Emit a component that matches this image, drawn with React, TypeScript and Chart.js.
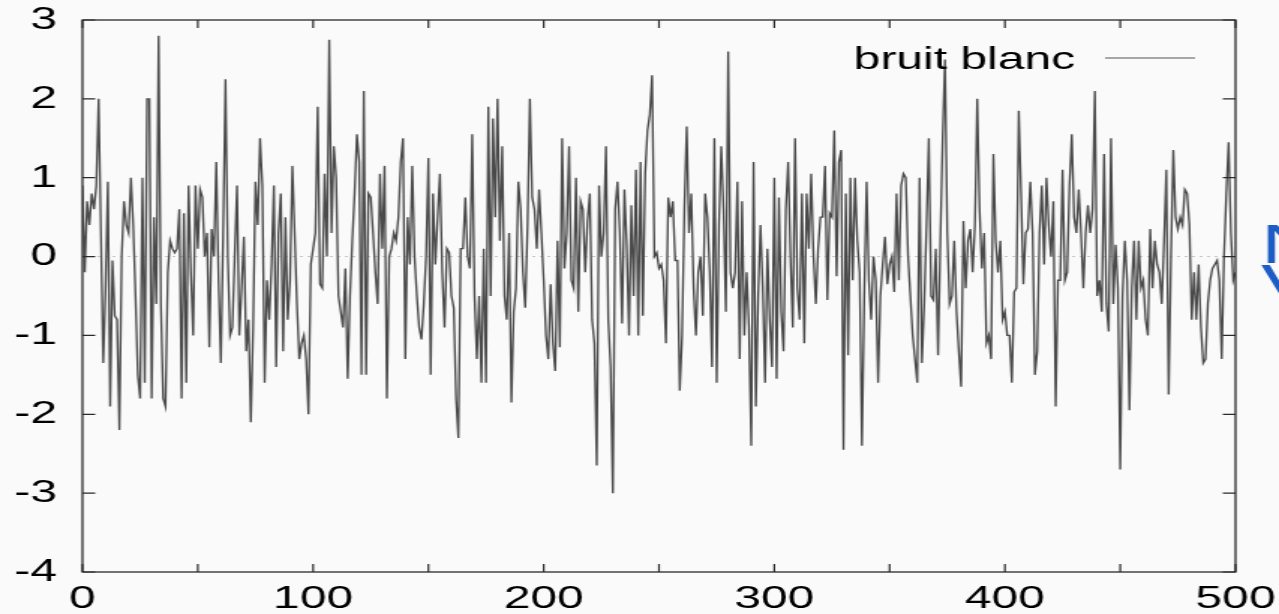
import { useEffect, useRef } from "react";
import { Chart, registerables } from "chart.js";

Chart.register(...registerables);

// ---- data ----
const seriesName = "bruit blanc";
const xTickLabels = ["0", "100", "200", "300", "400", "500"];
const yTickLabels = ["-4", "-3", "-2", "-1", "0", "1", "2", "3"];
const annotationGlyphs = ["N", "V"];

const noise0to99 = [
  0.9, -0.2, 0.7, 0.4, 0.8, 0.6, 0.9, 2.0, 0.3, -1.35,
  -0.4, 0.95, -1.9, -0.05, -0.75, -0.8, -2.2, 0.0, 0.7, 0.4,
  0.3, 1.0, 0.4, -0.5, -1.5, -1.8, 1.0, -1.6, 2.0, 2.0,
  -1.8, 0.5, -0.6, 2.8, -0.6, -1.8, -1.9, -0.2, 0.2, 0.1,
  0.05, 0.1, 0.6, -1.8, 0.55, -1.6, 0.9, -0.2, -1.0, 0.9,
  0.1, 0.85, 0.75, 0.0, 0.3, -1.15, 0.35, 0.0, 1.2, -0.3,
  -1.35, 0.3, 2.25, 0.0, -1.0, -0.9, 0.0, 0.9, -1.0, -0.4,
  0.25, -1.2, -0.8, -2.1, -0.9, 0.95, 0.4, 1.5, 0.9, -1.6,
  -0.3, -0.8, -0.1, 0.9, -1.4, 0.3, 0.8, -1.2, 0.5, -0.8,
  -0.3, 1.15, 0.3, -0.6, -1.3, -1.1, -1.0, -1.3, -2.0, -0.1,
];
const noise100to199 = [
  0.1, 0.3, 1.9, -0.35, -0.4, 1.05, 0.0, 2.75, 0.3, 1.4,
  1.0, -0.5, -0.7, -0.9, -0.15, -1.55, -0.5, 0.2, 0.8, 1.55,
  1.2, -1.5, 2.1, -1.5, 0.8, 0.75, 0.3, -0.2, -0.6, 1.05,
  0.1, 1.15, -1.8, 0.0, 0.1, 0.3, 0.2, 0.5, 1.2, 1.5,
  -1.3, 0.5, -0.1, 1.15, 0.0, -0.5, -0.9, -1.05, -0.6, 0.0,
  1.25, -1.5, 0.8, -0.1, 0.5, 1.05, -0.2, -0.9, 0.1, 0.05,
  -0.5, -0.65, -1.8, -2.3, 0.1, 0.1, 0.75, 0.0, -0.15, 1.55,
  -0.5, -1.3, -0.5, -1.6, 0.1, -1.6, 1.9, -0.5, 1.75, 0.5,
  2.0, 0.2, 1.4, -0.5, -0.8, 0.3, -1.85, -0.7, -0.4, 0.95,
  0.6, -0.2, -0.65, 0.4, 2.0, 0.75, 0.6, 0.1, 0.85, 0.3,
];
const noise200to299 = [
  -0.3, -1.0, -1.3, -0.35, -1.1, -1.45, 0.2, -1.15, 1.5, -0.15,
  0.3, 1.4, -0.3, -0.4, 1.0, -0.7, 0.7, 0.6, -0.2, 0.45,
  0.8, -0.8, -1.1, -2.65, 0.9, 0.0, 0.3, 1.4, -0.8, -1.4,
  -3.0, 0.6, 0.95, 0.3, -0.85, 0.85, 0.15, -1.0, 0.65, -0.5,
  1.1, -1.0, 1.2, -0.75, 1.05, 1.6, 1.8, 2.3, 0.0, 0.05,
  -0.15, -0.1, -0.3, -1.1, 0.75, 0.5, 0.7, -0.05, -0.05, -1.7,
  -1.0, 0.6, 1.65, 0.3, 0.8, -0.4, -1.0, -0.2, 0.0, -0.75,
  0.8, 0.5, -0.2, -1.4, 1.5, -1.6, 0.4, 1.4, 0.6, -0.7,
  2.6, -0.2, -0.4, -0.2, 0.95, -1.3, 0.7, -1.0, -0.2, -0.9,
  -2.4, 1.2, -1.9, -0.5, 0.4, -0.4, -1.6, 0.1, -0.8, -1.4,
];
const noise300to399 = [
  1.0, -1.55, 0.75, -0.7, -1.2, 0.6, 1.2, 0.0, -0.9, 1.5,
  -0.4, -0.8, 0.8, -1.1, 0.8, 0.1, 1.05, 0.0, -0.6, 0.1,
  0.5, 0.5, 1.15, -0.55, 0.55, 0.5, 1.6, -0.25, 1.2, 1.35,
  -2.45, 0.8, -1.25, 1.0, -0.3, 1.0, 0.2, -0.2, -2.4, -0.5,
  0.95, -0.3, -0.8, 0.0, -0.3, -1.6, -0.5, -0.1, 0.25, -0.35,
  -0.1, 0.0, -0.45, 0.8, -0.3, 0.9, 1.05, 1.0, 0.0, -0.5,
  -1.0, -1.3, -1.6, 1.0, -1.35, -0.6, 0.4, 1.5, -0.5, -0.55,
  0.1, -1.25, 0.2, 1.5, 2.5, 0.3, -0.6, -0.5, 0.2, -0.7,
  -1.2, -1.65, 0.45, -0.4, 0.2, 0.35, -0.2, 0.4, 2.0, 0.6,
  -0.15, 0.3, -1.1, -1.0, -1.3, 1.3, 0.2, -0.2, 0.2, -0.8,
];
const noise400to500 = [
  -0.7, -1.0, -1.0, -1.6, -0.45, -0.4, 1.85, 0.8, -0.35, 0.3,
  0.35, 0.95, 0.3, -1.5, -1.2, 0.3, 0.9, -0.1, 1.0, 0.4,
  0.0, 0.7, -1.9, -0.3, -0.3, 1.1, -0.3, -0.2, 0.9, 1.55,
  0.5, 0.3, 0.85, 0.3, -0.4, 0.3, 0.65, 0.3, 0.6, 2.1,
  -0.5, -0.3, -0.7, 1.3, -0.6, -0.95, 1.5, -0.6, 0.15, -0.4,
  -2.7, -0.5, 0.2, -0.3, -1.95, -0.4, 0.2, -0.8, 0.2, -0.4,
  -0.3, -0.8, -1.0, 0.35, -0.4, 0.2, -0.1, -0.2, -0.6, 0.2,
  1.1, -1.75, 0.0, 1.35, 0.5, 0.35, 0.5, 0.4, 0.85, 0.8,
  0.4, -0.8, -0.2, -0.8, -0.1, -0.9, -1.35, -1.3, -0.6, -0.3,
  -0.15, -0.1, -0.05, -0.3, -1.3, 0.0, 0.8, 1.45, 0.3, -0.3,
  -0.2,
];
const noise = [...noise0to99, ...noise100to199, ...noise200to299, ...noise300to399, ...noise400to500];

// ---- layout / style ----
const OUT_W = 1279;
const OUT_H = 614;
const STRETCH = 1.5; // the reference is horizontally stretched
const IN_W = Math.round(OUT_W / STRETCH);
const BG = "#fafafa";
const FONT = '"Liberation Sans", Arial, Helvetica, sans-serif';

const gnuplotLook = {
  id: "gnuplotLook",
  beforeDraw(chart: any) {
    const { ctx, width, height } = chart;
    ctx.save();
    ctx.fillStyle = BG;
    ctx.fillRect(0, 0, width, height);
    ctx.restore();
  },
  beforeDatasetsDraw(chart: any) {
    const { ctx, chartArea, scales } = chart;
    const y0 = scales.y.getPixelForValue(0);
    ctx.save();
    ctx.strokeStyle = "#c4c4c4";
    ctx.lineWidth = 1;
    ctx.setLineDash([2, 3]);
    ctx.beginPath();
    ctx.moveTo(chartArea.left, y0);
    ctx.lineTo(chartArea.right, y0);
    ctx.stroke();
    ctx.restore();
  },
  afterDraw(chart: any) {
    const { ctx, chartArea, scales } = chart;
    const { left, right, top, bottom } = chartArea;
    ctx.save();
    // frame
    ctx.strokeStyle = "#2a2a2a";
    ctx.lineWidth = 1.3;
    ctx.strokeRect(left, top, right - left, bottom - top);
    // inward ticks
    ctx.lineWidth = 1.2;
    ctx.beginPath();
    scales.y.ticks.forEach((t: any) => {
      const py = scales.y.getPixelForValue(t.value);
      ctx.moveTo(left, py);
      ctx.lineTo(left + 8.5, py);
      ctx.moveTo(right, py);
      ctx.lineTo(right - 8.5, py);
    });
    scales.x.ticks.forEach((t: any) => {
      const px = scales.x.getPixelForValue(t.value);
      ctx.moveTo(px, bottom);
      ctx.lineTo(px, bottom - 8);
      ctx.moveTo(px, top);
      ctx.lineTo(px, top + 8);
    });
    ctx.stroke();

    // key (gnuplot style: text then sample)
    ctx.fillStyle = "#000";
    ctx.font = `32px ${FONT}`;
    ctx.textAlign = "right";
    ctx.textBaseline = "alphabetic";
    const keyRight = right - 107;
    ctx.fillText(seriesName, keyRight, top + 49);
    ctx.strokeStyle = "#555";
    ctx.lineWidth = 1;
    ctx.beginPath();
    ctx.moveTo(keyRight + 20, top + 38);
    ctx.lineTo(keyRight + 80, top + 38);
    ctx.stroke();

    // partially visible blue handwritten note at the right edge
    const y0 = scales.y.getPixelForValue(0);
    ctx.fillStyle = "#1c5cc4";
    ctx.textAlign = "left";
    ctx.font = `56px ${FONT}`;
    ctx.fillText(annotationGlyphs[0], right + 17, y0 + 6);
    ctx.fillText(annotationGlyphs[1], right + 17, y0 + 46);
    ctx.restore();
  },
};

export default function App() {
  const canvasRef = useRef<HTMLCanvasElement | null>(null);

  useEffect(() => {
    document.body.style.margin = "0";
    document.body.style.background = BG;
    const canvas = canvasRef.current;
    if (!canvas) return;
    const points = noise.map((v, i) => ({ x: i, y: v }));
    const chart = new Chart(canvas, {
      type: "line",
      data: {
        datasets: [
          {
            label: seriesName,
            data: points,
            borderColor: "#4a4a4a",
            borderWidth: 1.35,
            pointRadius: 0,
            tension: 0,
            fill: false,
          },
        ],
      },
      options: {
        responsive: false,
        devicePixelRatio: 1,
        animation: false,
        layout: { padding: { top: 20, right: IN_W - 824, left: 0, bottom: 0 } },
        plugins: {
          legend: { display: false },
          tooltip: { enabled: false },
        },
        scales: {
          x: {
            type: "linear",
            min: 0,
            max: 500,
            grid: { display: false, drawTicks: false },
            border: { display: false },
            ticks: {
              stepSize: 50,
              autoSkip: false,
              maxRotation: 0,
              padding: 8,
              color: "#000",
              font: { family: FONT, size: 32 },
              callback: (v: any) => {
                const s = String(v);
                return xTickLabels.includes(s) ? s : "";
              },
            },
            afterFit: (s: any) => {
              s.height = 42;
              s.paddingLeft = 0;
              s.paddingRight = 0;
            },
          },
          y: {
            min: -4,
            max: 3,
            grid: { display: false, drawTicks: false },
            border: { display: false },
            ticks: {
              stepSize: 1,
              padding: 17,
              color: "#000",
              font: { family: FONT, size: 32 },
              callback: (v: any) => {
                const s = String(v);
                return yTickLabels.includes(s) ? s : "";
              },
            },
            afterFit: (s: any) => {
              s.width = 55;
              s.paddingTop = 0;
              s.paddingBottom = 0;
            },
          },
        },
      },
      plugins: [gnuplotLook],
    });
    return () => chart.destroy();
  }, []);

  return (
    <div style={{ position: "fixed", left: 0, top: 0, width: OUT_W, height: OUT_H, background: BG, overflow: "hidden" }}>
      <canvas
        ref={canvasRef}
        width={IN_W}
        height={OUT_H}
        style={{ width: OUT_W + "px", height: OUT_H + "px", display: "block" }}
      />
    </div>
  );
}
